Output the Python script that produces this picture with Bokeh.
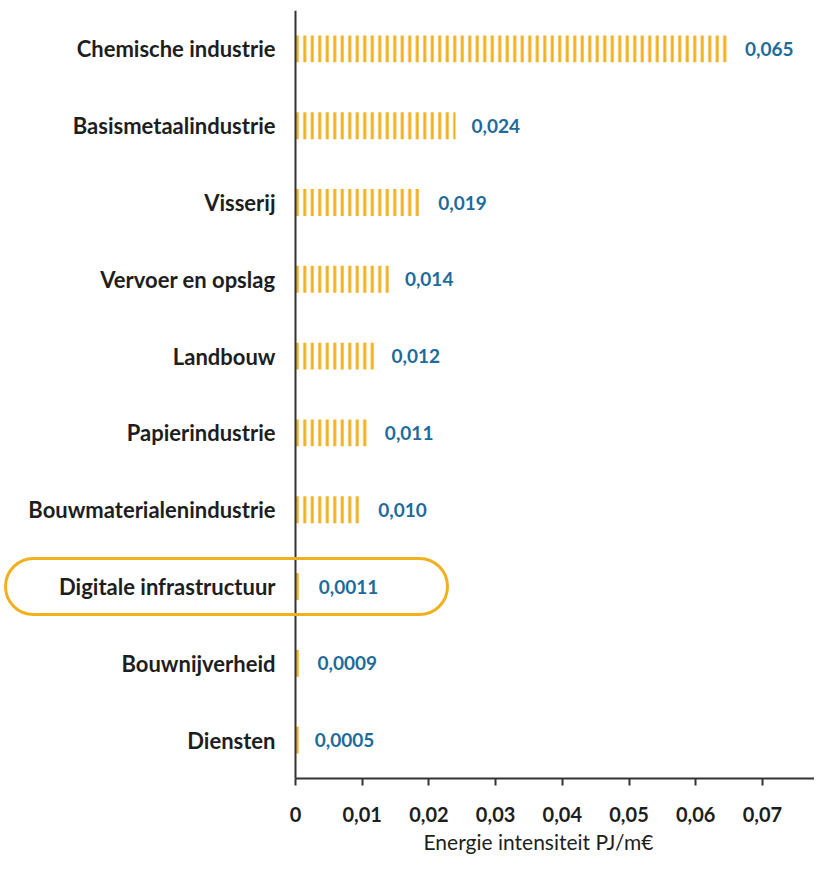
from bokeh.plotting import figure
from bokeh.models import Span, BoxAnnotation, FixedTicker, CustomJSTickFormatter, Range1d, ColumnDataSource, Title
from bokeh.core.properties import value
from bokeh.embed import file_html
from bokeh.resources import INLINE

categories = ["Chemische industrie", "Basismetaalindustrie", "Visserij", "Vervoer en opslag",
              "Landbouw", "Papierindustrie", "Bouwmaterialenindustrie", "Digitale infrastructuur",
              "Bouwnijverheid", "Diensten"]
values = [0.065, 0.024, 0.019, 0.014, 0.012, 0.011, 0.010, 0.0011, 0.0009, 0.0005]
value_labels = ["0,065", "0,024", "0,019", "0,014", "0,012", "0,011", "0,010", "0,0011", "0,0009", "0,0005"]
x_ticks = [0, 0.01, 0.02, 0.03, 0.04, 0.05, 0.06, 0.07]
highlight = "Digitale infrastructuur"
x_title = "Energie intensiteit PJ/m€"

W, H = 814, 856
zero_px = 295
px_per_unit = 6670.0
x_start = -zero_px / px_per_unit
x_end = (W - zero_px) / px_per_unit

n = len(categories)
ys = [n - 1 - i for i in range(n)]

src = ColumnDataSource(dict(y=ys, v=values, cat=categories, lab=value_labels, zero=[0] * n))

p = figure(width=W, height=H, output_backend="svg", toolbar_location=None,
           x_range=Range1d(x_start, x_end), y_range=Range1d(-0.5, n - 0.5),
           min_border_left=0, min_border_right=0, min_border_top=10, min_border_bottom=78)
p.outline_line_color = None
p.xgrid.visible = False
p.ygrid.visible = False
p.yaxis.visible = False
p.background_fill_color = "white"

bar_color = "#F2B01E"
p.hbar(y="y", left=0, right="v", height=0.35, source=src, fill_alpha=0, line_color=None,
       hatch_pattern="vertical_line", hatch_color=bar_color, hatch_scale=7.5, hatch_weight=3)

p.text(x="zero", y="y", text="cat", source=src, x_offset=-20, text_align="right",
       text_baseline="middle", text_font=value("Lato"), text_font_style="bold",
       text_font_size="22px", text_color="#1e1e1e")
p.text(x="v", y="y", text="lab", source=src, x_offset=16, text_align="left",
       text_baseline="middle", text_font=value("Lato"), text_font_style="bold",
       text_font_size="19px", text_color="#1d6b9b")

p.add_layout(Span(location=0, dimension="height", line_color="#333333", line_width=2))

hi = ys[categories.index(highlight)]
p.add_layout(BoxAnnotation(left=(5 - zero_px) / px_per_unit, right=(447 - zero_px) / px_per_unit,
                           bottom=hi - 0.365, top=hi + 0.365, fill_alpha=0,
                           line_color=bar_color, line_alpha=1.0, line_width=3, border_radius=28))

ax = p.xaxis[0]
ax.bounds = (0, x_end)
ax.ticker = FixedTicker(ticks=x_ticks)
ax.formatter = CustomJSTickFormatter(code='return tick === 0 ? "0" : tick.toFixed(2).replace(".", ",");')
ax.axis_line_color = "#333333"
ax.axis_line_width = 2
ax.major_tick_out = 7
ax.major_tick_in = 0
ax.major_tick_line_color = "#333333"
ax.major_tick_line_width = 2
ax.minor_tick_line_color = None
ax.major_label_standoff = 21
ax.major_label_text_font = "Lato"
ax.major_label_text_font_style = "bold"
ax.major_label_text_font_size = "20px"
ax.major_label_text_color = "#1e1e1e"

p.add_layout(Title(text=x_title, align="left", offset=423, standoff=4, text_font="Lato",
                   text_font_style="normal", text_font_size="21px", text_color="#1e1e1e"), "below")

open("out.html", "w").write(file_html(p, INLINE))
